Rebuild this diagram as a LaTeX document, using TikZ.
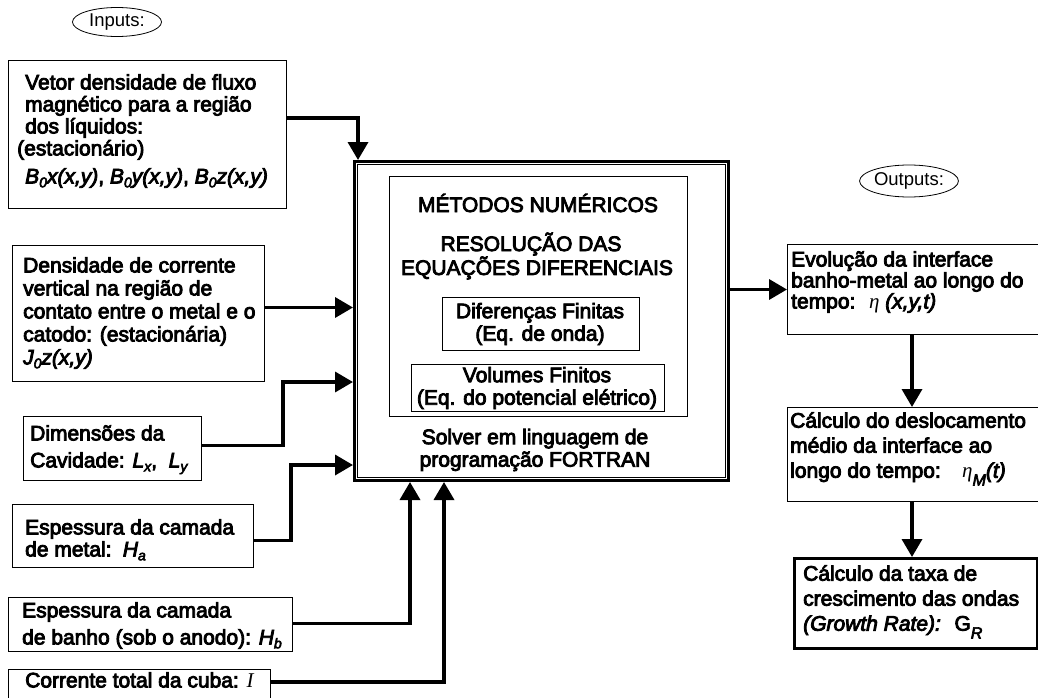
\documentclass[tikz,border=0pt]{standalone}
\usepackage{fontspec}
\setmainfont{Liberation Sans}
\newfontfamily\hv{Liberation Sans}[FakeBold=4]
\newfontfamily\tnr{Liberation Serif}
\usetikzlibrary{arrows.meta,shapes.geometric,calc}
\tikzset{
 box/.style={draw, line width=1pt, rectangle, anchor=north west, inner sep=0pt},
 txt/.style={inner sep=0pt, anchor=north west, align=left, font=\fontsize{21}{22}\selectfont\hv},
 ctxt/.style={inner sep=0pt, align=center, font=\fontsize{21}{22.5}\selectfont\hv},
 conn/.style={line width=3.5pt, -{Triangle[length=18pt,width=20pt]}},
 oval/.style={ellipse, draw, line width=0.8pt, inner sep=0pt, font=\fontsize{18.5}{18.5}\selectfont}
}
\newcommand\sbs[1]{\raisebox{-0.35ex}{\fontsize{14}{14}\selectfont #1}}
\newcommand\sbl[1]{\raisebox{-0.7ex}{\fontsize{16}{16}\selectfont #1}}
\begin{document}
\begin{tikzpicture}[x=1pt,y=-1pt]
\useasboundingbox (0,0) rectangle (1038,698);
\clip (0,0) rectangle (1038,698);
\fill[white] (0,0) rectangle (1038,698);

% ovals
\node[oval, minimum width=89pt, minimum height=29pt] (inputs) at (117,22) {Inputs:};
\node[oval, minimum width=92pt, minimum height=32pt] (outputs) at (909,181) {Outputs:};

% input boxes
\node[box, minimum width=278pt, minimum height=148pt] (b1) at (8,60) {};
\node[txt] (t1) at (17,74) {\hspace{8pt}Vetor densidade de fluxo\\ \hspace{8pt}magnético para a região\\ \hspace{8pt}dos líquidos:\\ (estacionário)\\[6pt] \hspace{8pt}\textit{B\sbs{0}x(x,y)}, \textit{B\sbs{0}y(x,y)}, \textit{B\sbs{0}z(x,y)}};

\node[box, minimum width=252pt, minimum height=136pt] (b2) at (12,245) {};
\node[txt, font=\fontsize{21}{23}\selectfont\hv] (t2) at (23,257) {Densidade de corrente\\ vertical na região de\\ contato entre o metal e o\\ catodo: (estacionária)\\ \textit{J\sbs{0}z(x,y)}};

\node[box, minimum width=178pt, minimum height=64pt] (b3) at (23,416) {};
\node[txt] (t3) at (30,425) {Dimensões da\\[5pt] Cavidade: \textit{L\sbs{x}},\; \textit{L\sbs{y}}};

\node[box, minimum width=241pt, minimum height=63pt] (b4) at (12,504) {};
\node[txt] (t4) at (25,519) {Espessura da camada\\ de metal:\, \textit{H\sbs{a}}};

\node[box, minimum width=284pt, minimum height=54pt] (b5) at (8,597) {};
\node[txt] (t5) at (22,602) {Espessura da camada\\[5pt] de banho (sob o anodo): \textit{H\sbs{b}}};

\node[box, minimum width=262pt, minimum height=40pt] (b6) at (8,669) {};
\node[txt] (t6) at (25,672) {Corrente total da cuba: {\tnr\itshape I}};

% main block
\node[box, line width=3pt, minimum width=374pt, minimum height=319pt] (main) at (353,160) {};
\draw[line width=1pt] ($(main.north west)+(4.5,4.5)$) rectangle ($(main.south east)+(-4.5,-4.5)$);
\node[box, minimum width=298pt, minimum height=240pt] (inner) at (389,176) {};
\node[ctxt] (m1) at (538,203) {MÉTODOS NUMÉRICOS};
\node[ctxt] (m2) at (537,256) {RESOLUÇÃO DAS\hspace*{12pt}\\ EQUAÇÕES DIFERENCIAIS};
\node[box, minimum width=197pt, minimum height=53pt] (dif) at (442,297) {};
\node[ctxt] (m3) at (540,324) {Diferenças Finitas\\ (Eq. de onda)};
\node[box, minimum width=253pt, minimum height=47pt] (vol) at (411,364) {};
\node[ctxt] (m4) at (537,388) {Volumes Finitos\\ (Eq. do potencial elétrico)};
\node[ctxt] (m5) at (535,450) {Solver em linguagem de\\ programação FORTRAN};

% output boxes
\node[box, minimum width=262pt, minimum height=90pt] (r1) at (787,244) {};
\node[txt, font=\fontsize{21}{21}\selectfont\hv] (o1) at (791,251) {Evolução da interface\\ banho-metal ao longo do\\ tempo:\; {\tnr\itshape η} \textit{(x,y,t)}};

\node[box, minimum width=262pt, minimum height=94pt] (r2) at (787,407) {};
\node[txt, font=\fontsize{21}{25}\selectfont\hv] (o2) at (790,412) {Cálculo do deslocamento\\ médio da interface ao\\ longo do tempo: \; {\tnr\itshape η}\sbl{\textit{M}}\textit{(t)}};

\node[box, line width=3pt, minimum width=243pt, minimum height=90pt] (r3) at (793,557) {};
\node[txt, font=\fontsize{21}{25}\selectfont\hv] (o3) at (803,565) {Cálculo da taxa de\\ crescimento das ondas\\ \textit{(Growth Rate):}\; G\sbl{\textit{R}}};

% connectors
\draw[conn] ($(b1.north east)+(0,58)$) -| ($(main.north west)+(5,0)$);
\draw[conn] ($(b2.east)+(0,-6)$) coordinate (a2) -- (a2 -| main.west);
\draw[conn] ($(b3.east)+(0,-3)$) -- ++(81,0) |- ($(main.north west)+(0,222)$);
\draw[conn] ($(b4.east)+(0,4.5)$) -- ++(37,0) |- ($(main.north west)+(0,305)$);
\draw[conn] ($(b5.east)+(0,-1)$) -| ($(main.south west)+(57,0)$);
\draw[conn] ($(b6.north east)+(0,13)$) -| ($(main.south west)+(91,0)$);
\draw[conn] (main.east |- r1.west) -- (r1.west);
\draw[conn] ($(r1.south west)+(125,0)$) coordinate (a7) -- (a7 |- r2.north);
\draw[conn] ($(r2.south west)+(125,0)$) coordinate (a8) -- (a8 |- r3.north);
\end{tikzpicture}
\end{document}
